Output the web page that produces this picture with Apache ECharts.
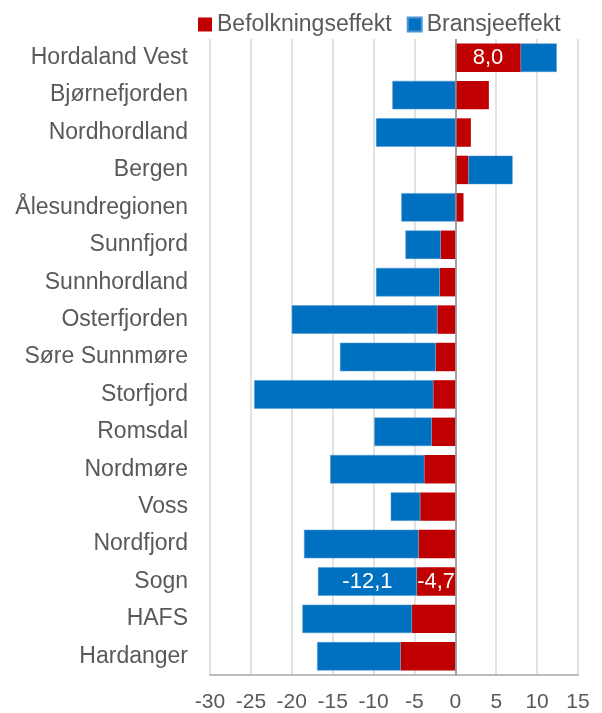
<!DOCTYPE html>
<html><head><meta charset="utf-8">
<script src="https://cdn.jsdelivr.net/npm/echarts@6/dist/echarts.min.js"></script>
<style>html,body{margin:0;padding:0;background:#fff}#c{width:602px;height:713px}</style>
</head><body><div id="c"></div>
<script>
const categories = ["Hordaland Vest","Bjørnefjorden","Nordhordland","Bergen","Ålesundregionen","Sunnfjord","Sunnhordland","Osterfjorden","Søre Sunnmøre","Storfjord","Romsdal","Nordmøre","Voss","Nordfjord","Sogn","HAFS","Hardanger"];
const befolkning = [8.0, 4.1, 1.9, 1.6, 1.0, -1.8, -1.9, -2.2, -2.4, -2.7, -2.9, -3.8, -4.3, -4.5, -4.7, -5.3, -6.7];
const bransje = [4.4, -7.7, -9.7, 5.4, -6.6, -4.3, -7.8, -17.8, -11.7, -21.9, -7.0, -11.5, -3.6, -14.0, -12.1, -13.4, -10.2];
const befolkningLabelled = ["Hordaland Vest", "Sogn"];
const bransjeLabelled = ["Sogn"];
const xTicks = {min: -30, max: 15, interval: 5};

const fmt = v => v.toFixed(1).replace('.', ',');
const mk = (arr, lab) => arr.map((v, i) => lab.includes(categories[i]) ? {value: v, label: {show: true}} : v);
const lbl = {show: false, position: 'inside', color: '#fff', fontSize: 22, fontFamily: 'Liberation Sans', formatter: p => fmt(p.value)};

const chart = echarts.init(document.getElementById('c'), null, {renderer: 'canvas'});
chart.setOption({
  animation: false,
  textStyle: {fontFamily: 'Liberation Sans'},
  legend: {
    top: 8, left: 193, icon: 'rect', itemWidth: 14, itemHeight: 14, itemGap: 15,
    textStyle: {color: '#595959', fontSize: 23},
    data: ['Befolkningseffekt', 'Bransjeeffekt']
  },
  grid: {left: 210, right: 24, top: 39, bottom: 37, containLabel: false},
  xAxis: {
    type: 'value', min: xTicks.min, max: xTicks.max, interval: xTicks.interval,
    axisLine: {show: true, onZero: false, lineStyle: {color: '#a6a6a6', width: 1.5}},
    axisTick: {show: false},
    splitLine: {show: true, lineStyle: {color: '#d9d9d9', width: 1.5}},
    axisLabel: {color: '#595959', fontSize: 21, margin: 17}
  },
  yAxis: {
    type: 'category', data: categories, inverse: true,
    axisLine: {show: false, onZero: false},
    axisTick: {show: false},
    axisLabel: {color: '#595959', fontSize: 23, margin: 22}
  },
  series: [
    {
      name: 'Befolkningseffekt', type: 'bar', stack: 'a', barCategoryGap: '24%',
      itemStyle: {color: '#C00000'},
      label: lbl,
      data: mk(befolkning, befolkningLabelled),
      markLine: {silent: true, symbol: 'none', label: {show: false},
        lineStyle: {color: '#8c8c8c', width: 1.5, type: 'solid'}, data: [{xAxis: 0}]}
    },
    {
      name: 'Bransjeeffekt', type: 'bar', stack: 'a', barCategoryGap: '24%',
      itemStyle: {color: '#0070C0', borderColor: '#4a97d2', borderWidth: 0.5},
      label: lbl,
      data: mk(bransje, bransjeLabelled)
    }
  ]
});
</script></body></html>
